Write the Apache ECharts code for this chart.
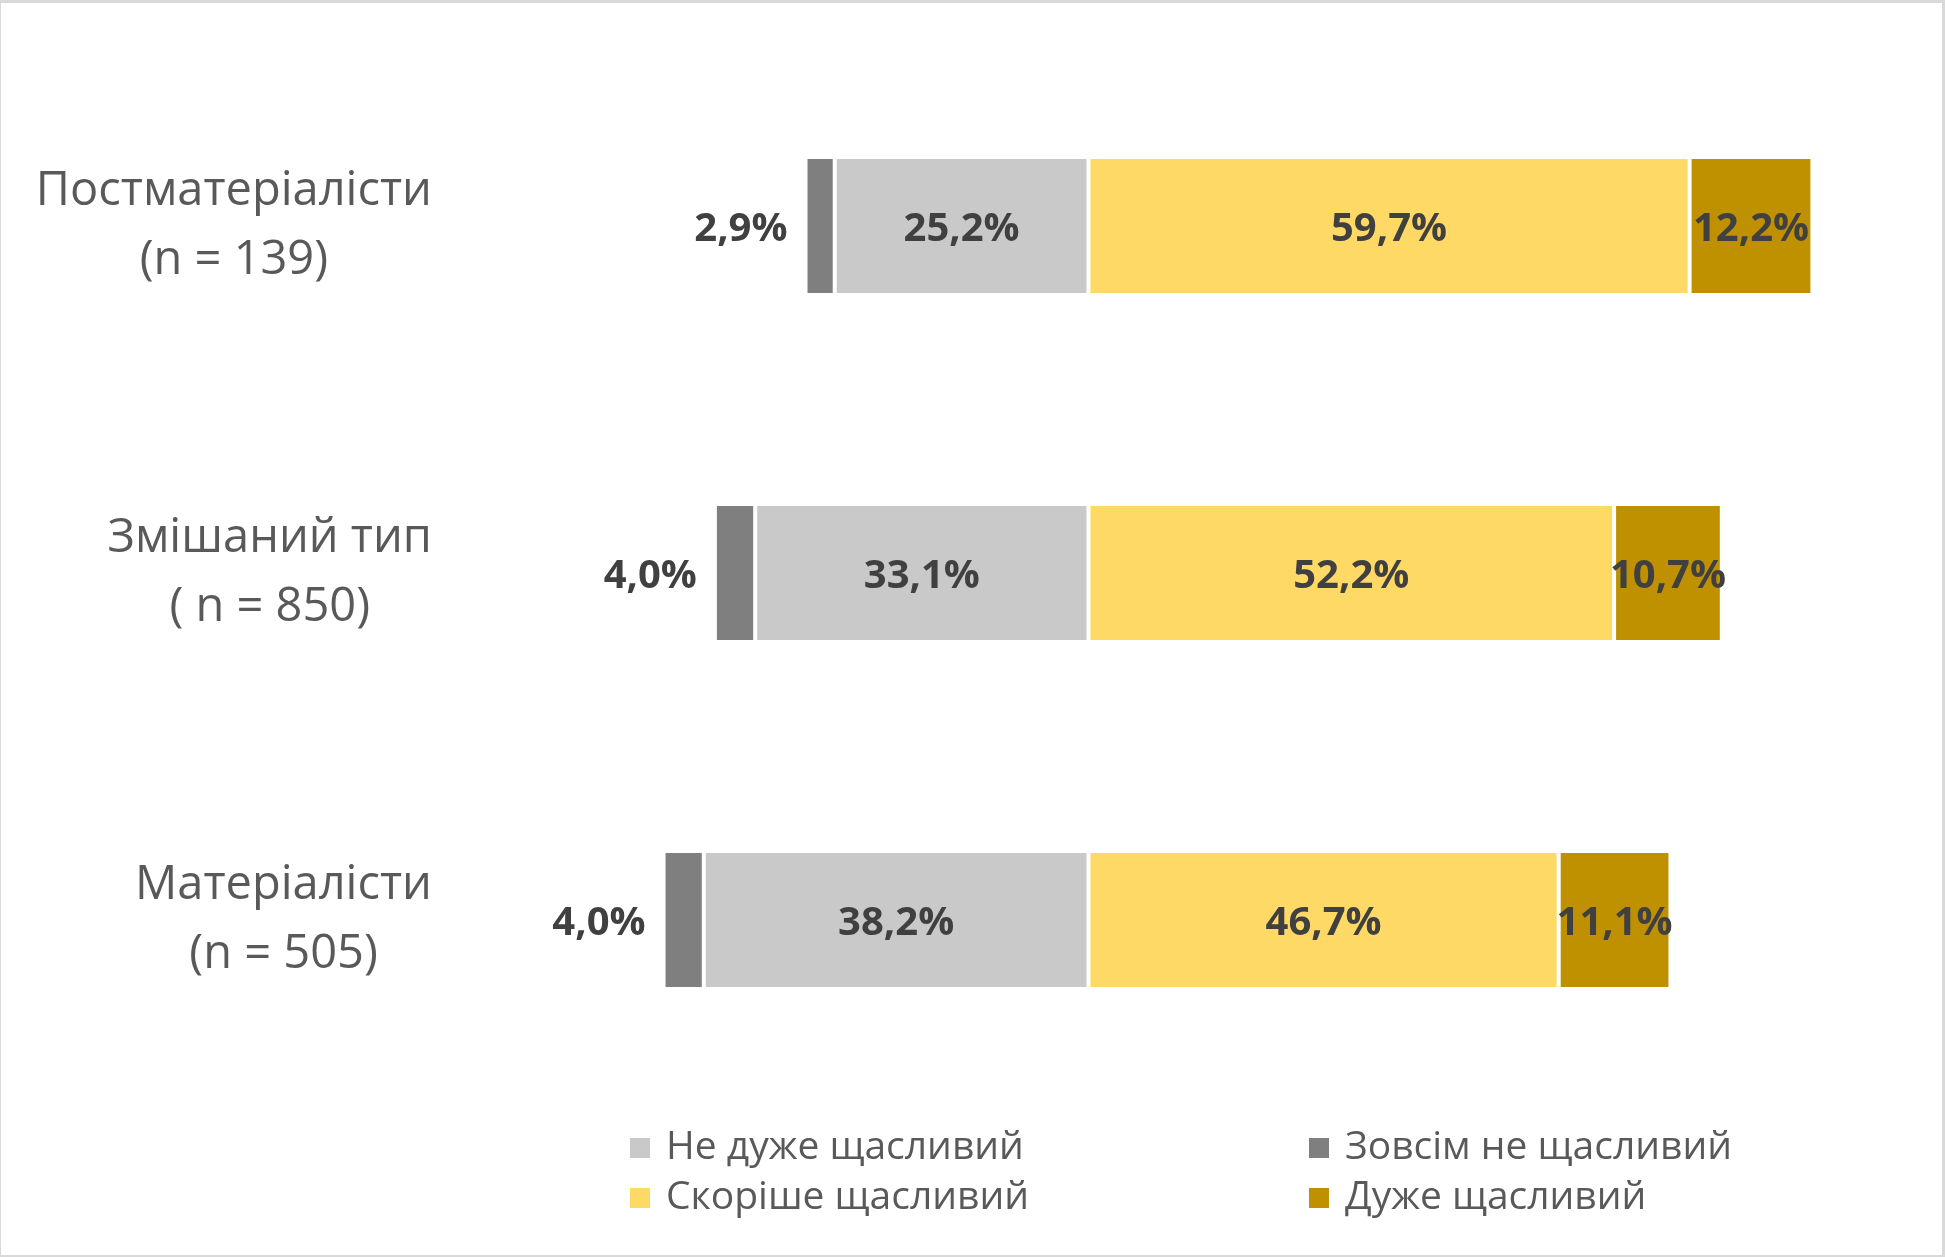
<!DOCTYPE html>
<html>
<head>
<meta charset="utf-8">
<script src="https://cdn.jsdelivr.net/npm/echarts@6/dist/echarts.min.js"></script>
<style>
  html, body { margin: 0; padding: 0; background: #fff; }
  #frame {
    position: absolute; left: 0; top: 0;
    width: 1945px; height: 1257px; box-sizing: border-box;
    border-style: solid; border-color: #d9d9d9;
    border-width: 3px 3px 2px 1px;
  }
  #chart { position: absolute; left: 0; top: 0; width: 1945px; height: 1257px; }
</style>
</head>
<body>
<div id="frame"></div>
<div id="chart"></div>
<script>
// категорії (зверху вниз)
const categories = ['Постматеріалісти\n(n = 139)', 'Змішаний тип\n( n = 850)', 'Матеріалісти\n(n = 505)']
// значення, %
const notVeryHappy = [25.2, 33.1, 38.2]
const notAtAllHappy = [2.9, 4.0, 4.0]
const ratherHappy = [59.7, 52.2, 46.7]
const veryHappy = [12.2, 10.7, 11.1]

const FONT = "'Open Sans', 'Noto Sans', sans-serif"
const fmt = (p) => Math.abs(p.value).toFixed(1).replace('.', ',') + '%'

const labelInside = {
    show: true,
    position: 'inside',
    offset: [0, 4],
    formatter: fmt,
    color: '#404040',
    fontWeight: 'bold',
    fontSize: 40,
    fontFamily: FONT
}

const bar = (name, data, color, label) => ({
    name: name,
    type: 'bar',
    stack: 'total',
    barWidth: 138,
    data: data,
    itemStyle: { color: color, borderColor: '#fff', borderWidth: 2 },
    label: label,
    emphasis: { disabled: true }
})

const legendBase = {
    orient: 'vertical',
    top: 1126,
    padding: 0,
    itemGap: 6,
    itemWidth: 22,
    itemHeight: 22,
    icon: 'rect',
    textStyle: { color: '#595959', fontSize: 39, lineHeight: 44, fontFamily: FONT, padding: [0, 0, 0, 10] }
}

let myChart = echarts.init(document.getElementById('chart'))
myChart.setOption({
    animation: false,
    grid: { left: 585, right: 51, top: 52.5, bottom: 163.5 },
    xAxis: {
        type: 'value',
        min: -50,
        max: 80,
        show: false
    },
    yAxis: {
        type: 'category',
        inverse: true,
        data: categories,
        axisLine: { show: false },
        axisTick: { show: false },
        splitLine: { show: false },
        axisLabel: {
            margin: 153,
            align: 'right',
            formatter: (v) => v.split('\n').map((l) => '{c|' + l + '}').join('\n'),
            rich: {
                c: { align: 'center', fontSize: 47, lineHeight: 69, color: '#595959', fontFamily: FONT }
            }
        }
    },
    legend: [
        Object.assign({}, legendBase, { left: 628, data: ['Не дуже щасливий', 'Скоріше щасливий'] }),
        Object.assign({}, legendBase, { left: 1307, data: ['Зовсім не щасливий', 'Дуже щасливий'] })
    ],
    series: [
        bar('Не дуже щасливий', notVeryHappy.map((v) => -v), '#c9c9c9', labelInside),
        bar('Зовсім не щасливий', notAtAllHappy.map((v) => -v), '#7f7f7f',
            Object.assign({}, labelInside, { position: 'left', distance: 18 })),
        bar('Скоріше щасливий', ratherHappy, '#ffd966', labelInside),
        bar('Дуже щасливий', veryHappy, '#bf9000', labelInside)
    ]
})
</script>
</body>
</html>
